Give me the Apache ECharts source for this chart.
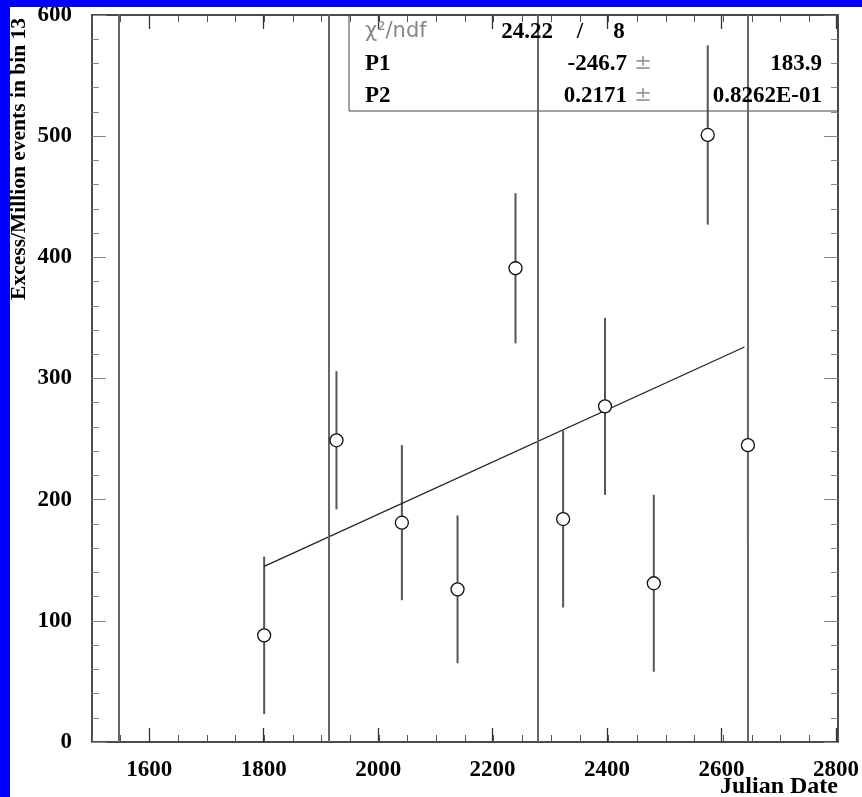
<!DOCTYPE html>
<html>
<head>
<meta charset="utf-8">
<script src="https://cdn.jsdelivr.net/npm/echarts@6/dist/echarts.min.js"></script>
<style>
html,body{margin:0;padding:0;background:#fff;}
#c{width:862px;height:797px;}
</style>
</head>
<body>
<div id="c"></div>
<script>
// ---- data ----
const xDates = [1800, 1926, 2040, 2137, 2238, 2321, 2394, 2479, 2573, 2643];
const yExcess = [88, 249, 181, 126, 391, 184, 277, 131, 501, 245];
const yError = [65, 57, 64, 61, 62, 73, 73, 73, 74, 80];
const fitX = [1800, 2637];
const fitY = [145, 326];
const vLineDates = [1546, 1912, 2277, 2642];
const xMajorTicks = [1600, 1800, 2000, 2200, 2400, 2600, 2800];
const statsRows = [
  ['χ²/ndf', '24.22', '/', '8'],
  ['P1', '-246.7', '±', '183.9'],
  ['P2', '0.2171', '±', '0.8262E-01']
];

const serif = "'Liberation Serif', 'Times New Roman', serif";
const chart = echarts.init(document.getElementById('c'), null, {renderer: 'canvas'});

const errData = xDates.map((x, i) => [x, yExcess[i] - yError[i], yExcess[i] + yError[i]]);
const ptData = xDates.map((x, i) => [x, yExcess[i]]);
const fitData = fitX.map((x, i) => [x, fitY[i]]);

const gridBox = {left: 92, top: 15, width: 746, height: 727};
function minorX(pos) {
  return {
    type: 'value', gridIndex: 0, position: pos, min: 1500, max: 2800, interval: 50,
    axisLine: {show: true, onZero: false, lineStyle: {color: '#111', width: 1.5}},
    axisTick: {show: true, inside: true, length: 7, lineStyle: {color: '#555', width: 1}},
    axisLabel: {show: false}, splitLine: {show: false}
  };
}
function majorX(pos, labels) {
  return {
    type: 'value', gridIndex: 1, position: pos, min: 1500, max: 2800, interval: 50,
    axisLine: {show: false, onZero: false},
    axisTick: {show: true, inside: true, length: 14, customValues: xMajorTicks, lineStyle: {color: '#333', width: 1.3}},
    axisLabel: labels ? {show: true, customValues: xMajorTicks, margin: 17, fontFamily: serif, fontWeight: 'bold', fontSize: 23, color: '#000',
      formatter: v => String(v)} : {show: false},
    splitLine: {show: false}
  };
}
function yAx(grid, pos, labels) {
  return {
    type: 'value', gridIndex: grid, position: pos, min: 0, max: 600, interval: 100,
    axisLine: {show: grid === 0, onZero: false, lineStyle: {color: '#111', width: 1.5}},
    axisTick: {show: grid === 0, inside: true, length: 14, lineStyle: {color: '#888', width: 1}},
    minorTick: {show: grid === 0, splitNumber: 5, length: 7, lineStyle: {color: '#888', width: 1}},
    axisLabel: labels ? {show: true, margin: 20, fontFamily: serif, fontWeight: 'bold', fontSize: 23, color: '#000',
      formatter: v => String(v)} : {show: false},
    splitLine: {show: false}
  };
}

const graphics = [
  {type: 'rect', shape: {x: 0, y: 0, width: 862, height: 7}, style: {fill: '#0000ff'}, z: 100},
  {type: 'rect', shape: {x: 0, y: 0, width: 10, height: 797}, style: {fill: '#0000ff'}, z: 100},
  {type: 'rect', shape: {x: 349, y: 15, width: 489, height: 96}, style: {fill: 'none', stroke: '#444', lineWidth: 1}, z: 5},
  {type: 'text', x: 19, y: 18, rotation: Math.PI / 2,
   style: {text: 'Excess/Million events in bin 13', font: "bold 21.5px 'Liberation Serif'", fill: '#000', align: 'right', verticalAlign: 'middle'}},
  {type: 'text', x: 838, y: 787,
   style: {text: 'Julian Date', font: "bold 24px 'Liberation Serif'", fill: '#000', align: 'right', verticalAlign: 'middle'}}
];
const rowY = [32, 64, 96];
const valFont = "bold 23px 'Liberation Serif'";
statsRows.forEach((r, i) => {
  const y = rowY[i];
  const isFirst = i === 0;
  graphics.push({type: 'text', x: 365, y: y, style: {text: r[0],
    font: isFirst ? "21px 'DejaVu Sans'" : valFont,
    fill: isFirst ? '#888' : '#000', align: 'left', verticalAlign: 'middle'}, z: 10});
  if (isFirst) {
    graphics.push({type: 'text', x: 553, y: y, style: {text: r[1], font: valFont, fill: '#000', align: 'right', verticalAlign: 'middle'}, z: 10});
    graphics.push({type: 'text', x: 580, y: y, style: {text: r[2], font: valFont, fill: '#000', align: 'center', verticalAlign: 'middle'}, z: 10});
    graphics.push({type: 'text', x: 619, y: y, style: {text: r[3], font: valFont, fill: '#000', align: 'center', verticalAlign: 'middle'}, z: 10});
  } else {
    graphics.push({type: 'text', x: 627, y: y, style: {text: r[1], font: valFont, fill: '#000', align: 'right', verticalAlign: 'middle'}, z: 10});
    graphics.push({type: 'text', x: 643, y: y, style: {text: r[2], font: "21px 'DejaVu Sans'", fill: '#999', align: 'center', verticalAlign: 'middle'}, z: 10});
    graphics.push({type: 'text', x: 822, y: y, style: {text: r[3], font: valFont, fill: '#000', align: 'right', verticalAlign: 'middle'}, z: 10});
  }
});

chart.setOption({
  animation: false,
  backgroundColor: '#fff',
  grid: [Object.assign({}, gridBox), Object.assign({}, gridBox)],
  xAxis: [minorX('bottom'), minorX('top'), majorX('bottom', true), majorX('top', false)],
  yAxis: [yAx(0, 'left', true), yAx(0, 'right', false), yAx(1, 'left', false)],
  graphic: graphics,
  series: [
    {
      type: 'line', xAxisIndex: 0, yAxisIndex: 0, data: [], silent: true,
      markLine: {
        silent: true, symbol: ['none', 'none'], label: {show: false},
        lineStyle: {color: '#666', width: 2, type: 'solid'},
        data: vLineDates.map(v => ({xAxis: v}))
      }
    },
    {
      type: 'custom', xAxisIndex: 0, yAxisIndex: 0, data: errData, silent: true,
      encode: {x: 0, y: [1, 2]},
      renderItem: function (params, api) {
        const p1 = api.coord([api.value(0), api.value(1)]);
        const p2 = api.coord([api.value(0), api.value(2)]);
        return {type: 'line', shape: {x1: p1[0], y1: p1[1], x2: p2[0], y2: p2[1]}, style: {stroke: '#555', lineWidth: 2}};
      },
      z: 3
    },
    {
      type: 'line', xAxisIndex: 0, yAxisIndex: 0, data: fitData, symbol: 'none', silent: true,
      lineStyle: {color: '#222', width: 1.3}, z: 4
    },
    {
      type: 'scatter', xAxisIndex: 0, yAxisIndex: 0, data: ptData, symbol: 'circle', symbolSize: 13, silent: true,
      itemStyle: {color: '#fff', borderColor: '#111', borderWidth: 1.3, opacity: 1}, z: 6
    }
  ]
});
</script>
</body>
</html>
